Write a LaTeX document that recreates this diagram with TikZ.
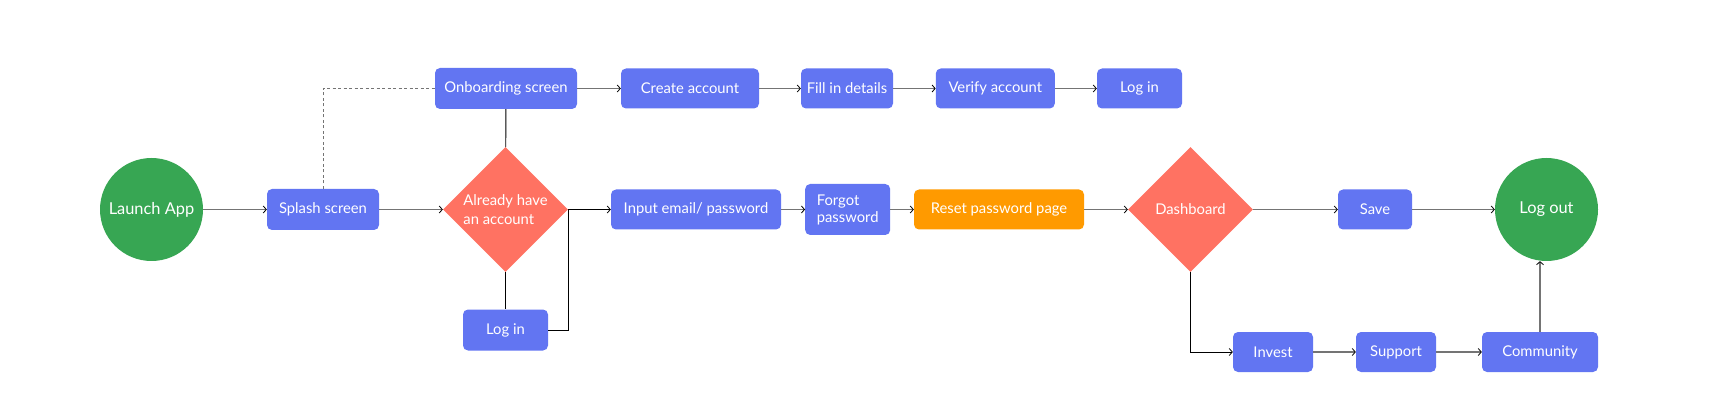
\documentclass[tikz,border=0pt]{standalone}
\usepackage{fontspec}
\setmainfont{Lato}
\usetikzlibrary{shapes.geometric,arrows.meta}
\definecolor{azul}{HTML}{6275F2}
\definecolor{coral}{HTML}{FF7262}
\definecolor{verde}{HTML}{37A653}
\definecolor{naranja}{HTML}{FF9A00}
\definecolor{gris}{HTML}{747474}
\begin{document}
\begin{tikzpicture}[x=1pt,y=-1pt,
  caja/.style={rectangle,rounded corners=5pt,fill=azul,text=white,minimum height=40pt,inner sep=0pt,font=\fontsize{14.8}{17}\selectfont},
  rombo/.style={diamond,aspect=1,fill=coral,text=white,minimum size=125pt,inner sep=0pt,font=\fontsize{14.8}{19}\selectfont},
  circulo/.style={circle,fill=verde,text=white,minimum size=103pt,inner sep=0pt,font=\fontsize{16.4}{19}\selectfont},
  flecha/.style={draw=gris,line width=1.2pt,-{Straight Barb[length=3pt,width=7pt,color=black,line width=0.8pt]}},
  linea/.style={draw=black,line width=0.9pt},
  flechanegra/.style={linea,-{Straight Barb[length=3pt,width=7pt,line width=0.8pt]}}]
  \useasboundingbox (0,0) rectangle (1733,414);

  % Inicio
  \node[circulo] (launch) at (151.5,209.5) {Launch App};
  \node[caja,minimum width=112pt,minimum height=41pt] (splash) at (323,209.5) {Splash screen};
  \node[rombo,align=left] (tiene) at (505.5,209.5) {Already have\\an account};
  \node[caja,minimum width=85pt,minimum height=41pt] (login1) at (505.5,330) {Log in};

  % Registro
  \node[caja,minimum width=142pt,minimum height=41pt] (onboard) at (506,88.5) {Onboarding screen};
  \node[caja,minimum width=138pt] (create) at (690,88.5) {Create account};
  \node[caja,minimum width=92pt] (fill) at (847,88.5) {Fill in details};
  \node[caja,minimum width=119pt] (verify) at (995.3,88.5) {Verify account};
  \node[caja,minimum width=85pt] (login2) at (1139.5,88.5) {Log in};

  % Acceso
  \coordinate (codo) at (568,209.5);
  \node[caja,minimum width=170pt] (input) at (696,209.5) {Input email/ password};
  \node[caja,minimum width=85pt,minimum height=51pt,align=left] (forgot) at (847.7,209.5) {Forgot\\password};
  \node[caja,fill=naranja,minimum width=170pt] (reset) at (999,209.5) {Reset password page};

  % Panel
  \node[rombo] (dash) at (1190.5,209.5) {Dashboard};
  \node[caja,minimum width=74pt] (save) at (1375,209.5) {Save};
  \node[circulo] (logout) at (1546.5,209.5) {Log out};
  \node[caja,minimum width=80pt] (invest) at (1273,352) {Invest};
  \node[caja,minimum width=80pt] (support) at (1396,352) {Support};
  \node[caja,minimum width=116pt] (community) at (1540,352) {Community};

  % Conexiones
  \draw[flecha] (launch) -- (splash);
  \draw[flecha] (splash) -- (tiene);
  \draw[gris,line width=1pt,dash pattern=on 3pt off 2.5pt] (splash.north) |- (onboard.west);
  \draw[linea] (onboard) -- (tiene);
  \draw[linea] (tiene) -- (login1);
  \draw[flechanegra] (login1.east) -| (codo) -- (input.west);
  \draw[flecha] (onboard) -- (create);
  \draw[flecha] (create) -- (fill);
  \draw[flecha] (fill) -- (verify);
  \draw[flecha] (verify) -- (login2);
  \draw[flecha] (input) -- (forgot);
  \draw[flecha] (forgot) -- (reset);
  \draw[flecha] (reset) -- (dash);
  \draw[flecha] (dash) -- (save);
  \draw[flecha] (save) -- (logout);
  \draw[flechanegra] (dash.south) |- (invest.west);
  \draw[flecha] (invest) -- (support);
  \draw[flecha] (support) -- (community);
  \draw[flecha] (community.north) -- (community.north |- logout.south);
\end{tikzpicture}
\end{document}
